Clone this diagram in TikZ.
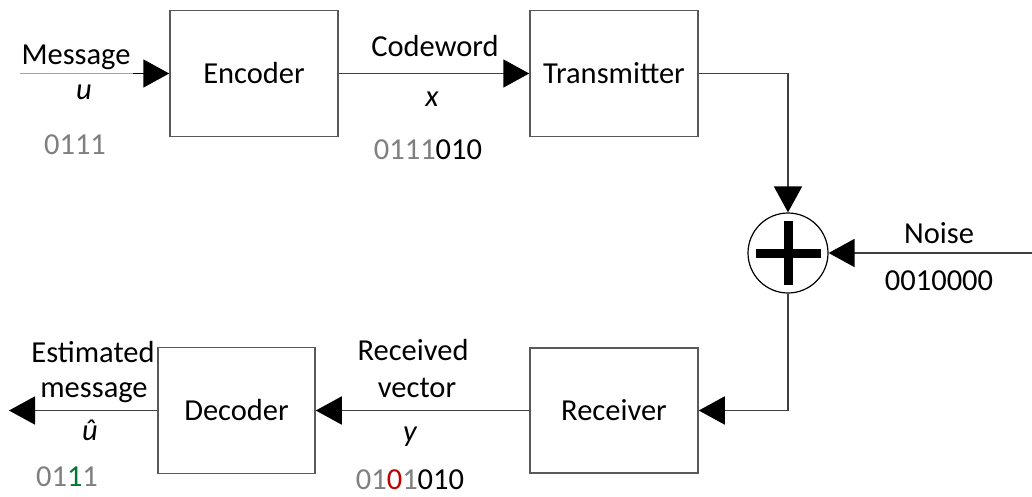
\documentclass[tikz,border=0pt]{standalone}
\usepackage{fontspec}
\setmainfont{Carlito}
\usetikzlibrary{arrows.meta,calc}
\definecolor{boxcol}{RGB}{89,89,89}
\definecolor{linecol}{RGB}{64,64,64}
\definecolor{bitgray}{RGB}{127,127,127}
\definecolor{bitred}{RGB}{192,0,0}
\definecolor{bitgreen}{RGB}{0,120,50}
\begin{document}
\begin{tikzpicture}[x=1pt,y=-1pt,
  font=\fontsize{30.5}{36}\selectfont,
  blockbox/.style={draw=boxcol,line width=1.5pt,minimum width=168pt,minimum height=126pt,inner sep=0pt,text height=19.6pt,text depth=0pt},
  conn/.style={draw=linecol,line width=1.8pt,-{Triangle[length=26pt,width=28pt,color=black]}},
  lbl/.style={anchor=base,inner sep=0pt,text depth=0pt}]
\useasboundingbox (0,0) rectangle (1032,497);
% blocks
\node[blockbox] (enc) at (254,73.5) {Encoder};
\node[blockbox] (tx) at (614,73.5) {Transmitter};
\node[blockbox,minimum height=125pt] (rx) at (614,410.5) {Receiver};
\node[blockbox,minimum width=157pt] (dec) at (236.5,410.5) {Decoder};
\node[draw=black,line width=1.2pt,circle,minimum size=80pt,inner sep=0pt] (sum) at (788,253) {};
\draw[line width=9pt] (sum.center) ++(-32.5,0) -- ++(65,0);
\draw[line width=9pt] (sum.center) ++(0,-32) -- ++(0,64);
% free ends
\coordinate (msgin) at (20,73.5);
\coordinate (msgmid) at (133,73.5);
\coordinate (noisein) at (1032,253);
\coordinate (estout) at (9,410.5);
% connectors
\draw[line width=1pt,bitgray!70] (msgin) -- (msgmid);
\draw[conn,draw=black] (msgmid) -- (enc.west);
\draw[conn] (enc.east) -- (tx.west);
\draw[conn] (tx.east) -| (sum.north);
\draw[conn] (noisein) -- (sum.east);
\draw[conn] (sum.south) |- (rx.east);
\draw[conn] (rx.west) -- (dec.east);
\draw[conn] (dec.west) -- (estout);
% labels
\node[lbl] (lmsg) at (76,65) {Message};
\node[lbl] (lu) at (84,100) {\itshape u};
\node[lbl,text=bitgray] (lubits) at (75,155) {0111};
\node[lbl] (lcw) at (435,57) {Codeword};
\node[lbl] (lx) at (432,107) {\itshape x};
\node[lbl] (lxbits) at (428,160) {\textcolor{bitgray}{0111}010};
\node[lbl] (lnoise) at (939,243) {Noise};
\node[lbl] (lnbits) at (939,290) {0010000};
\node[lbl] (lrec1) at (413,360) {Received};
\node[lbl] (lrec2) at (417,397) {vector};
\node[lbl] (ly) at (410,441) {\itshape y};
\node[lbl] (lybits) at (410,489) {\textcolor{bitgray}{01}\textcolor{bitred}{0}\textcolor{bitgray}{1}010};
\node[lbl] (lest1) at (93,362) {Estimated};
\node[lbl] (lest2) at (94,397) {message};
\node[lbl] (luh) at (90,440) {\itshape û};
\node[lbl,text=bitgray] (luhbits) at (67,486) {01\textcolor{bitgreen}{1}1};
\end{tikzpicture}
\end{document}
